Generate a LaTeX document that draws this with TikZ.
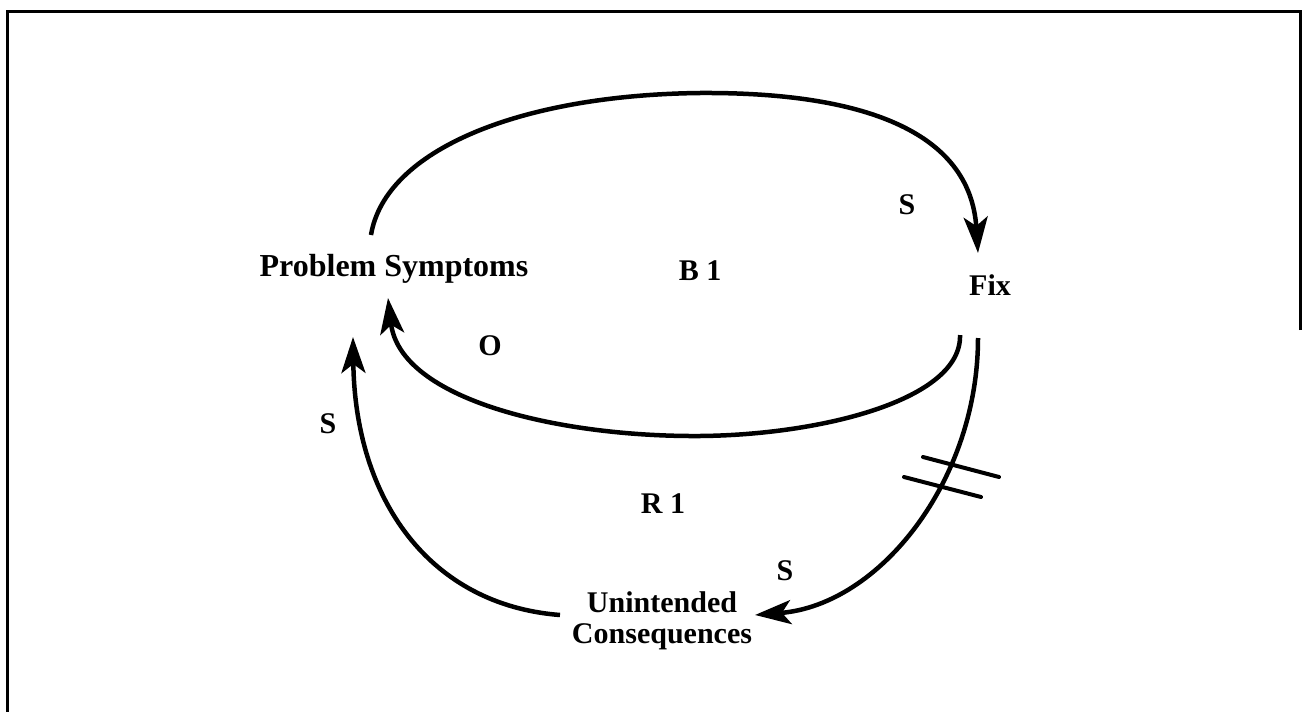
\documentclass[tikz,border=0pt]{standalone}
\usepackage{fontspec}
\setmainfont{Liberation Serif}
\usetikzlibrary{arrows.meta}
\begin{document}
\begin{tikzpicture}[x=1pt,y=-1pt,
  lbl/.style={font=\fontsize{30}{31}\selectfont\bfseries, inner sep=0pt, anchor=base},
  link/.style={line width=4.5pt, -{Stealth[length=36pt,width=24pt,inset=9pt]}},
  hash/.style={line width=4pt, line cap=round},
  frame/.style={line width=3pt}]
\useasboundingbox (0,0) rectangle (1302,712);
\fill[white] (0,0) rectangle (1302,712);
\draw[frame] (1300,330) -- (1300,11) -- (7,11) -- (7,712);
% variables
\node[lbl, font=\fontsize{32}{33}\selectfont\bfseries] (ps) at (394,276) {Problem Symptoms};
\node[lbl] (fix) at (990,295) {Fix};
\node[lbl, align=center] (uc) at (662,643) {Unintended\\Consequences};
% loop and polarity labels
\node[lbl] (b1) at (700,280) {B 1};
\node[lbl] (r1) at (663,513) {R 1};
\node[lbl] (s1) at (907,214) {S};
\node[lbl] (o1) at (490,355) {O};
\node[lbl] (s2) at (328,433) {S};
\node[lbl] (s3) at (785,580) {S};
% connector end points
\coordinate (psTop) at (371,235);
\coordinate (fixTop) at (978,253);
\coordinate (fixL) at (960,335);
\coordinate (psB) at (388,298);
\coordinate (fixR) at (978,338);
\coordinate (ucR) at (755,615);
\coordinate (ucL) at (560,615);
\coordinate (psL) at (353,337);
% connectors
\draw[link] (psTop) .. controls (385,150) and (520,95) .. (700,93)
  .. controls (860,92) and (970,130) .. (fixTop);
\draw[link] (fixL) .. controls (962,400) and (820,435) .. (700,436)
  .. controls (560,437) and (400,400) .. (psB);
\draw[link] (fixR) .. controls (978,480) and (880,605) .. (ucR);
\draw[link] (ucL) .. controls (430,605) and (355,500) .. (psL);
% delay marks
\draw[hash] (923,457) -- (999,477);
\draw[hash] (904,477) -- (981,497);
\end{tikzpicture}
\end{document}
